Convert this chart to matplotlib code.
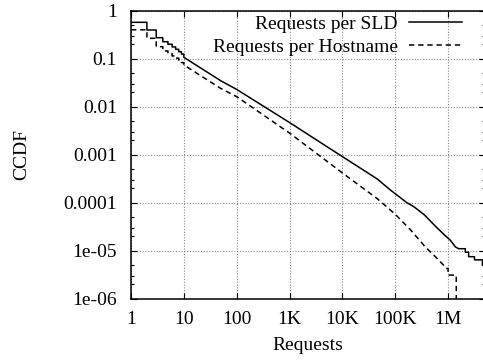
import matplotlib
matplotlib.use("Agg")
import matplotlib.pyplot as plt
from matplotlib.ticker import FixedLocator, FixedFormatter, LogLocator, NullFormatter

plt.rcParams['font.family'] = ['Liberation Serif', 'DejaVu Serif']
plt.rcParams['font.size'] = 14

# CCDF of requests per second-level domain (SLD)
# staircase at small counts, smooth middle, staircase tail
sld_head_req = [1, 2, 3, 4, 5, 6, 7, 8, 9, 10]
sld_head_ccdf = [0.573, 0.396, 0.274, 0.226, 0.200, 0.176, 0.157, 0.140, 0.125, 0.107]
sld_mid_req = [50, 100, 1000, 10000, 45000, 80000, 166000, 224000, 355000,
               617000, 891000, 1.10e6, 1.38e6, 1.58e6]
sld_mid_ccdf = [0.0347, 0.0229, 0.00468, 0.000912, 0.000316, 0.000186, 1.0e-4, 8.3e-5,
                5.6e-5, 3.0e-5, 2.04e-5, 1.66e-5, 1.2e-5, 1.1e-5]
sld_tail_req = [2.12e6, 2.45e6, 3.16e6, 4.47e6]
sld_tail_ccdf = [9.3e-6, 7.5e-6, 6.45e-6, 5.0e-6]

# CCDF of requests per hostname
host_head_req = [1, 2, 3, 4, 5, 6, 7, 8, 9, 10]
host_head_ccdf = [0.40, 0.266, 0.178, 0.145, 0.128, 0.114, 0.103, 0.094, 0.083, 0.074]
host_mid_req = [50, 100, 1000, 10000, 45000, 100000, 200000, 370000, 575000, 822000, 912000]
host_mid_ccdf = [0.024, 0.0162, 0.00282, 0.000417, 0.000123, 5.75e-5, 2.63e-5, 1.2e-5,
                 7.5e-6, 5.0e-6, 4.27e-6]
host_tail_req = [1.0e6, 1.43e6]
host_tail_ccdf = [3.1e-6, 1e-7]

x_ticks = [1, 10, 100, 1e3, 1e4, 1e5, 1e6]
x_labels = ['1', '10', '100', '1K', '10K', '100K', '1M']
y_ticks = [1, 0.1, 0.01, 0.001, 1e-4, 1e-5, 1e-6]
y_labels = ['1', '0.1', '0.01', '0.001', '0.0001', '1e-05', '1e-06']


def trace(head_x, head_y, mid_x, mid_y, tail_x, tail_y):
    # steps for head and tail, straight segments in between
    xs, ys = [head_x[0]], [head_y[0]]
    for x, y in zip(head_x[1:], head_y[1:]):
        xs += [x, x]
        ys += [ys[-1], y]
    xs += mid_x
    ys += mid_y
    for x, y in zip(tail_x, tail_y):
        xs += [x, x]
        ys += [ys[-1], y]
    return xs, ys


fig = plt.figure(figsize=(4.83, 3.62), dpi=100)
ax = fig.add_axes([131 / 483, 1 - 298.7 / 362, (485 - 131) / 483, 288 / 362])

sx, sy = trace(sld_head_req, sld_head_ccdf, sld_mid_req, sld_mid_ccdf, sld_tail_req, sld_tail_ccdf)
hx, hy = trace(host_head_req, host_head_ccdf, host_mid_req, host_mid_ccdf, host_tail_req, host_tail_ccdf)

ax.plot(sx, sy, color='black', lw=1.1, label='Requests per SLD')
ax.plot(hx, hy, color='black', lw=1.1, dashes=(3.5, 2.5), label='Requests per Hostname')

ax.set_xscale('log')
ax.set_yscale('log')
ax.set_xlim(1, 5e6)
ax.set_ylim(1e-6, 1)

ax.xaxis.set_major_locator(FixedLocator(x_ticks))
ax.xaxis.set_major_formatter(FixedFormatter(x_labels))
ax.xaxis.set_minor_locator(FixedLocator([]))
ax.yaxis.set_major_locator(FixedLocator(y_ticks))
ax.yaxis.set_major_formatter(FixedFormatter(y_labels))
ax.yaxis.set_minor_locator(LogLocator(base=10, subs=(2, 3, 5)))
ax.yaxis.set_minor_formatter(NullFormatter())

ax.tick_params(which='both', direction='in', top=True, right=True, width=0.8)
ax.tick_params(which='major', length=4)
ax.tick_params(which='minor', length=2.5)
ax.tick_params(axis='x', pad=9)
ax.tick_params(axis='y', pad=10)

ax.grid(True, which='major', color='#888888', linestyle=(0, (1, 1.5)), linewidth=0.8)
for s in ax.spines.values():
    s.set_linewidth(1.1)

ax.set_xlabel('Requests', labelpad=6)
ax.set_ylabel('CCDF', labelpad=24)

ax.legend(loc='upper right', bbox_to_anchor=(0.935, 0.985), frameon=False,
          markerfirst=False, handlelength=2.7, handletextpad=0.6,
          borderpad=0, borderaxespad=0, labelspacing=0.3)

fig.savefig('out.png', dpi=100)
